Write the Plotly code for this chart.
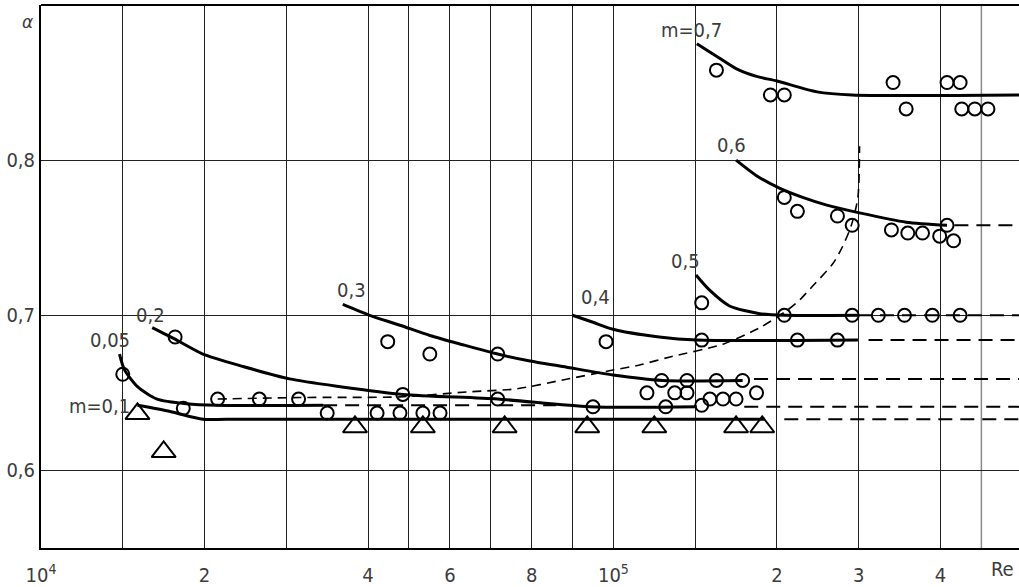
import numpy as np
import plotly.graph_objects as go

# Re axis is drawn piecewise-linear (as on the original nomogram):
# Re in units of 10^4 -> horizontal grid-cell position
RE_BREAKS = [1, 2, 4, 10, 20, 50]
CELL_BREAKS = [0, 2, 4, 7, 9, 12]


def rx(re):
    return np.interp(np.asarray(re, dtype=float), RE_BREAKS, CELL_BREAKS)


# labelled ticks and plain grid lines (Re, 10^4)
tick_re = [1, 2, 4, 6, 8, 10, 20, 30, 40]
tick_txt = ["10<sup>4</sup>", "2", "4", "6", "8", "10<sup>5</sup>", "2", "3", "4"]
grid_re = [1.5, 3, 5, 7, 9, 15]
extra_grid_re = 45

# ---- solid curves alpha(Re) for each m ----
m07_re = [15.1, 16.3, 17.5, 18.75, 20.0, 24.9, 29.2, 50]
m07_a = [0.875, 0.867, 0.859, 0.854, 0.851, 0.844, 0.842, 0.842]

m06_re = [17.5, 18.75, 20.3, 23.15, 26.1, 30.1, 35.8, 40.8]
m06_a = [0.800, 0.790, 0.782, 0.776, 0.771, 0.766, 0.760, 0.758]
m06_ext_re = [41.7, 50]
m06_ext_a = [0.758, 0.758]

m05_re = [15.05, 15.9, 17.1, 18.95, 21.2, 29.9]
m05_a = [0.726, 0.716, 0.706, 0.701, 0.700, 0.700]
m05_ext_re = [29.9, 50]
m05_ext_a = [0.700, 0.700]

m04_re = [9.0, 9.5, 9.99, 12.8, 15.1, 29.9]
m04_a = [0.700, 0.6955, 0.691, 0.686, 0.684, 0.684]
m04_ext_re = [31.2, 50]
m04_ext_a = [0.684, 0.684]

m03_re = [3.69, 4.04, 4.78, 5.51, 6.32, 7.17, 7.96, 8.76, 9.99, 13.0, 17.9]
m03_a = [0.707, 0.700, 0.6936, 0.687, 0.681, 0.675, 0.6705, 0.667, 0.6615, 0.658, 0.658]
m03_ext_re = [18.6, 50]
m03_ext_a = [0.659, 0.659]

m02_re = [1.68, 1.83, 1.99, 2.47, 3.04, 3.66, 4.85, 7.17, 9.42, 15.1]
m02_a = [0.692, 0.684, 0.675, 0.667, 0.659, 0.654, 0.649, 0.646, 0.641, 0.641]
m02_ext_re = [18.0, 50]
m02_ext_a = [0.641, 0.641]

m005_re = [1.48, 1.51, 1.59, 1.71, 1.89, 2.15, 3.45]
m005_a = [0.675, 0.665, 0.654, 0.646, 0.643, 0.642, 0.642]
m005_ext_re = [3.45, 8.6]
m005_ext_a = [0.642, 0.642]

m01_re = [1.59, 1.79, 1.99, 2.27, 19.25]
m01_a = [0.642, 0.638, 0.633, 0.633, 0.633]
m01_ext_re = [20.9, 50]
m01_ext_a = [0.633, 0.633]

# boundary (dashed) curve
bound_re = [2.16, 3.17, 4.78, 6.42, 7.64, 8.76, 9.99, 11.6, 13.4, 16.7, 18.95,
            21.2, 22.8, 24.4, 26.8, 28.0, 29.1, 29.9, 30.1]
bound_a = [0.646, 0.647, 0.6474, 0.6506, 0.6526, 0.6583, 0.6647, 0.668, 0.673,
           0.6814, 0.692, 0.703, 0.710, 0.719, 0.733, 0.744, 0.758, 0.776, 0.809]

# ---- experimental points ----
circ_re = [1.50, 1.82, 1.87, 2.16, 2.67, 3.15, 3.50, 4.22, 4.78, 5.34, 5.76,
           4.48, 5.51, 7.17, 4.85, 7.17, 9.50, 9.82, 12.05, 12.95, 13.2, 13.75,
           14.5, 14.5, 15.4, 15.9, 16.3, 16.7, 17.5, 17.9, 18.75,
           15.4, 22.5, 27.4,
           15.4, 20.9, 29.2, 32.4, 35.6, 39.0, 42.4,
           20.9, 22.5, 27.4, 29.2, 34.0, 36.0, 37.8, 39.9, 41.6, 40.8,
           16.3, 19.6, 20.9, 34.2, 35.8, 40.8, 42.4, 42.6, 44.2, 45.8]
circ_a = [0.662, 0.686, 0.640, 0.646, 0.646, 0.646, 0.637, 0.637, 0.637, 0.637, 0.637,
          0.683, 0.675, 0.675, 0.649, 0.646, 0.641, 0.683, 0.650, 0.658, 0.641, 0.650,
          0.658, 0.650, 0.642, 0.646, 0.658, 0.646, 0.646, 0.658, 0.650,
          0.684, 0.684, 0.684,
          0.708, 0.700, 0.700, 0.700, 0.700, 0.700, 0.700,
          0.776, 0.767, 0.764, 0.758, 0.755, 0.753, 0.753, 0.751, 0.748, 0.758,
          0.858, 0.842, 0.842, 0.850, 0.833, 0.850, 0.850, 0.833, 0.833, 0.833]

tri_re = [1.59, 1.75, 3.84, 5.34, 7.34, 9.36, 12.5, 17.5, 19.1]
tri_a = [0.6365, 0.612, 0.628, 0.628, 0.628, 0.628, 0.628, 0.628, 0.628]

# curve labels: text, Re, alpha
lab_txt = ["m=0,7", "0,6", "0,5", "0,4", "0,3", "0,2", "0,05", "m=0,1"]
lab_re = [14.8, 17.2, 14.4, 9.55, 3.80, 1.67, 1.42, 1.36]
lab_a = [0.884, 0.810, 0.735, 0.7115, 0.716, 0.700, 0.684, 0.6417]

FONT = "DejaVu Sans Condensed, Liberation Sans Narrow, DejaVu Sans, sans-serif"
INK = "#3c3c3c"
FS = 20

fig = go.Figure()


def add_line(re, a, width=3.0, dash=None, smooth=True):
    fig.add_trace(go.Scatter(
        x=rx(re), y=a, mode="lines",
        line=dict(color="black", width=width, dash=dash,
                  shape="spline" if smooth else "linear", smoothing=0.7),
        hoverinfo="skip", showlegend=False))


LONG_DASH = "14px,8px"
for r, a in [(m07_re, m07_a), (m06_re, m06_a), (m05_re, m05_a), (m04_re, m04_a),
             (m03_re, m03_a), (m02_re, m02_a), (m005_re, m005_a), (m01_re, m01_a)]:
    add_line(r, a)
for r, a in [(m06_ext_re, m06_ext_a), (m05_ext_re, m05_ext_a), (m04_ext_re, m04_ext_a),
             (m03_ext_re, m03_ext_a), (m02_ext_re, m02_ext_a), (m005_ext_re, m005_ext_a),
             (m01_ext_re, m01_ext_a)]:
    add_line(r, a, width=2, dash=LONG_DASH, smooth=False)
add_line(bound_re, bound_a, width=1.6, dash="9px,6px")

fig.add_trace(go.Scatter(
    x=rx(circ_re), y=circ_a, mode="markers",
    marker=dict(symbol="circle-open", size=13, color="black", line=dict(width=2)),
    hoverinfo="skip", showlegend=False))
fig.add_trace(go.Scatter(
    x=rx(tri_re), y=tri_a, mode="markers",
    marker=dict(symbol="triangle-up-open", size=21, color="black", line=dict(width=2)),
    hoverinfo="skip", showlegend=False))

for t, r, a in zip(lab_txt, lab_re, lab_a):
    fig.add_annotation(x=float(rx(r)), y=a, xref="x", yref="y", text=t,
                       xanchor="center", yanchor="middle", showarrow=False,
                       font=dict(family=FONT, size=FS, color=INK))

fig.add_annotation(x=0.9836, y=-0.038, xref="paper", yref="paper", text="Re",
                   xanchor="center", yanchor="middle", showarrow=False,
                   font=dict(family=FONT, size=FS, color=INK))
fig.add_annotation(x=-0.0143, y=0.969, xref="paper", yref="paper", text="<i>α</i>",
                   xanchor="center", yanchor="middle", showarrow=False,
                   font=dict(family="DejaVu Sans", size=17, color=INK))

# top border and the lighter grid line near the right edge
fig.add_shape(type="line", xref="paper", yref="paper", x0=0, x1=1, y0=1, y1=1,
              line=dict(color="black", width=2))
fig.add_shape(type="line", xref="x", yref="paper", x0=float(rx(extra_grid_re)),
              x1=float(rx(extra_grid_re)), y0=0, y1=1,
              line=dict(color="#8a8a8a", width=1.5), layer="below")

fig.update_xaxes(range=[0, 11.96], tickmode="array", tickvals=rx(tick_re).tolist(),
                 ticktext=tick_txt, showgrid=True, gridcolor="#222222", gridwidth=1,
                 minor=dict(tickmode="array", tickvals=rx(grid_re).tolist(),
                            showgrid=True, gridcolor="#222222", gridwidth=1, ticks=""),
                 showline=True, linecolor="black", linewidth=2, zeroline=False,
                 ticks="", ticklabelstandoff=8,
                 tickfont=dict(family=FONT, size=FS, color=INK))
fig.update_yaxes(range=[0.55, 0.9], tickmode="array", tickvals=[0.6, 0.7, 0.8],
                 ticktext=["0,6", "0,7", "0,8"], showgrid=True, gridcolor="#222222",
                 gridwidth=1, showline=True, linecolor="black", linewidth=2,
                 zeroline=False, ticks="", ticklabelstandoff=0,
                 tickfont=dict(family=FONT, size=FS, color=INK))

fig.update_layout(width=1019, height=587, margin=dict(l=41, r=0, t=5, b=35),
                  plot_bgcolor="white", paper_bgcolor="white", showlegend=False)

fig.write_html("out.html")
